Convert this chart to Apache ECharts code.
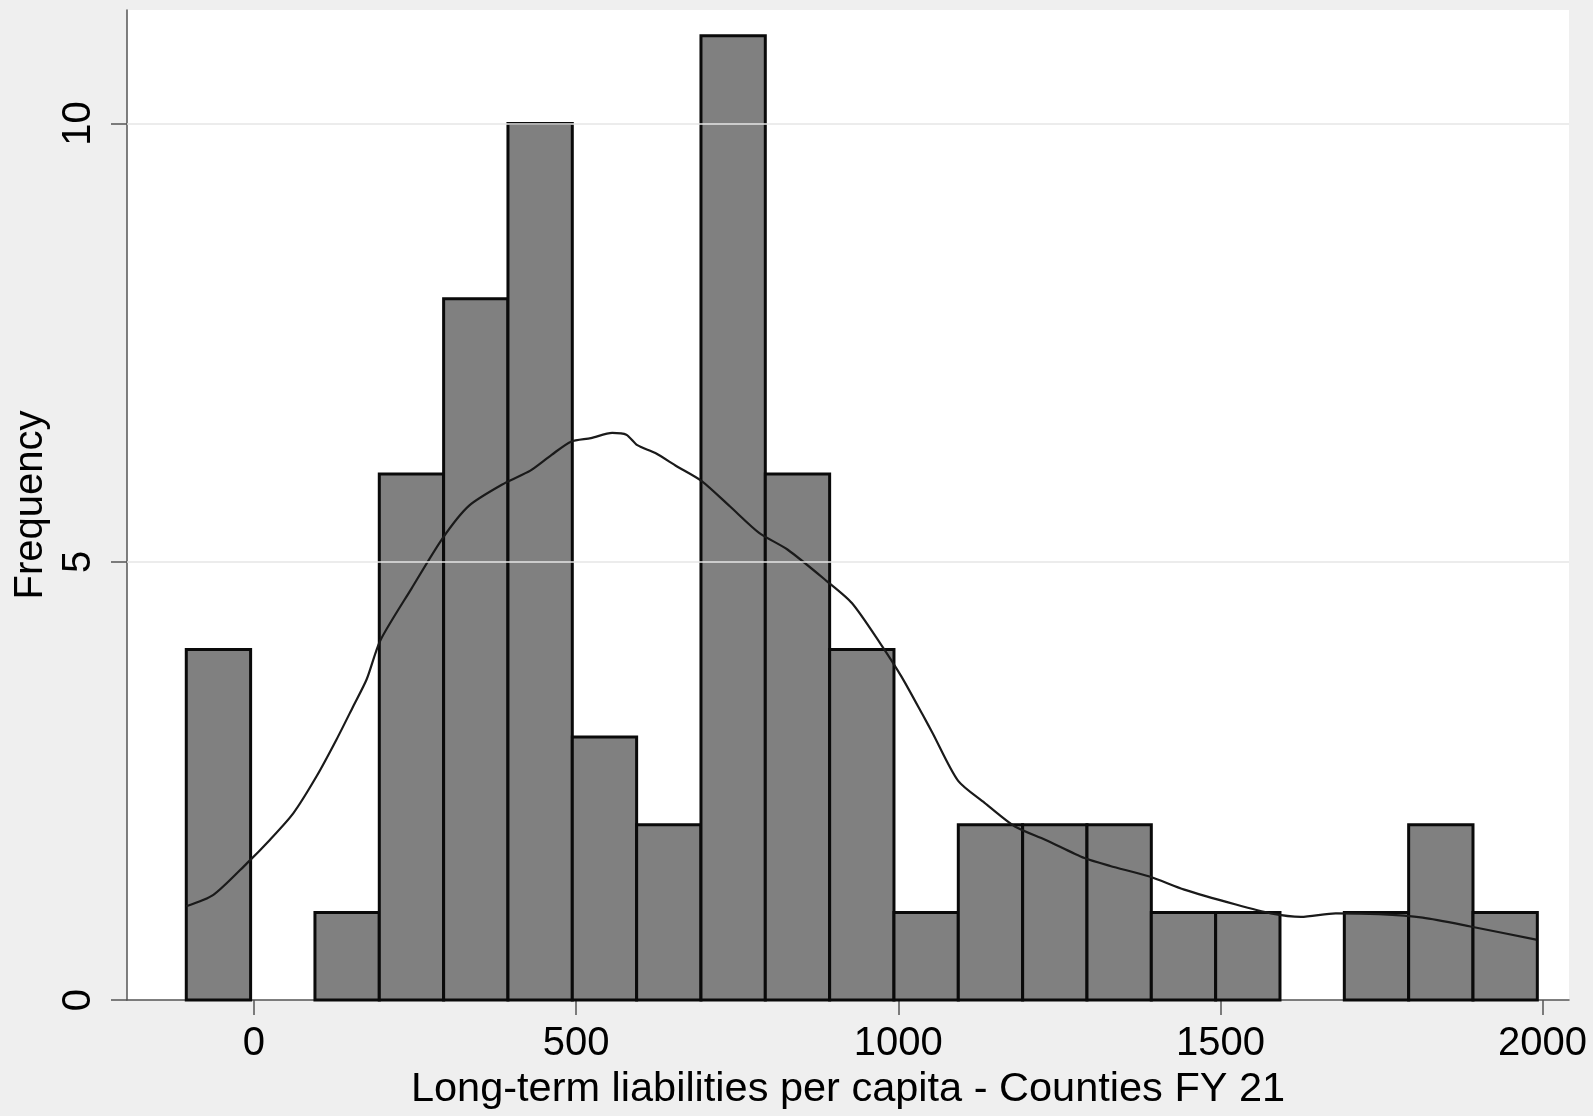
<!DOCTYPE html>
<html>
<head>
<meta charset="utf-8">
<title>Long-term liabilities per capita - Counties FY 21</title>
<script src="https://cdn.jsdelivr.net/npm/echarts@6/dist/echarts.min.js"></script>
<style>
  html, body { margin: 0; padding: 0; background: #efefef; }
  #chart { width: 1593px; height: 1116px; }
</style>
</head>
<body>
<div id="chart"></div>
<script>
// Histogram bins: lower edge of the first bin and the common bin width
const binStart = -105;
const binWidth = 99.85;
// Number of counties in each bin
const counts = [4, 0, 1, 6, 8, 10, 3, 2, 11, 6, 4, 1, 2, 2, 2, 1, 1, 0, 1, 2, 1];

// Kernel density estimate, scaled to frequency units
const densityX = [-105, -63, -11, 25, 61, 97, 128, 154, 175, 196, 245, 293, 334, 390, 429, 462, 492,
  523, 556, 578, 595, 623, 656, 695, 739, 784, 828, 889, 928, 972, 1005, 1039, 1053, 1093, 1134,
  1181, 1228, 1289, 1329, 1390, 1444, 1524, 1578, 1625, 1679, 1746, 1814, 1888, 1990];
const densityY = [1.07, 1.20, 1.56, 1.83, 2.13, 2.55, 2.97, 3.35, 3.66, 4.10, 4.70, 5.27, 5.64, 5.90,
  6.04, 6.22, 6.37, 6.41, 6.47, 6.45, 6.33, 6.24, 6.09, 5.92, 5.63, 5.33, 5.14, 4.78, 4.53, 4.07,
  3.69, 3.24, 3.05, 2.50, 2.25, 1.98, 1.83, 1.62, 1.53, 1.41, 1.26, 1.09, 0.99, 0.95, 0.99, 0.98,
  0.94, 0.84, 0.69];

// Axis ticks
const xTicks = [0, 500, 1000, 1500, 2000];
const yTicks = [0, 5, 10];
const xRange = [-197, 2041];
const yRange = [0, 11.294];

const FONT = '"Liberation Sans", Arial, Helvetica, sans-serif';

const binData = counts
  .map((c, i) => [binStart + i * binWidth, binStart + (i + 1) * binWidth, c])
  .filter(d => d[2] > 0);
const densityData = densityX.map((x, i) => [x, densityY[i]]);

const chart = echarts.init(document.getElementById('chart'), null, { renderer: 'canvas' });

chart.setOption({
  backgroundColor: '#efefef',
  animation: false,
  textStyle: { fontFamily: FONT, color: '#000' },
  grid: {
    left: 127, right: 24, top: 10, bottom: 115.5,
    show: true, backgroundColor: '#ffffff', borderWidth: 0
  },
  xAxis: {
    type: 'value',
    min: xRange[0], max: xRange[1],
    name: 'Long-term liabilities per capita - Counties FY 21',
    nameLocation: 'middle',
    nameGap: 67,
    nameTextStyle: { fontSize: 41.5, color: '#000', fontFamily: FONT },
    axisLine: { show: true, onZero: false, lineStyle: { color: '#555', width: 1.5 } },
    axisTick: { show: true, length: 15, lineStyle: { color: '#555', width: 1.5 }, customValues: xTicks },
    axisLabel: {
      fontSize: 40, margin: 24, color: '#000', fontFamily: FONT, customValues: xTicks,
      formatter: v => String(v)
    },
    splitLine: { show: false }
  },
  yAxis: {
    type: 'value',
    min: yRange[0], max: yRange[1],
    name: 'Frequency',
    nameLocation: 'middle',
    nameGap: 72,
    nameTextStyle: { fontSize: 40, color: '#000', fontFamily: FONT },
    axisLine: { show: true, onZero: false, lineStyle: { color: '#555', width: 1.5 } },
    axisTick: { show: true, length: 16, lineStyle: { color: '#555', width: 1.5 }, customValues: yTicks },
    axisLabel: {
      fontSize: 40, margin: 28, rotate: 90, color: '#000', fontFamily: FONT, customValues: yTicks,
      formatter: v => String(v)
    },
    splitLine: { show: false }
  },
  series: [
    {
      // horizontal grid lines behind the bars
      type: 'line',
      data: [],
      z: 1,
      silent: true,
      markLine: {
        silent: true,
        symbol: 'none',
        label: { show: false },
        lineStyle: { color: '#e6e6e6', width: 1.5, type: 'solid' },
        data: yTicks.filter(v => v > 0).map(v => ({ yAxis: v }))
      }
    },
    {
      type: 'custom',
      z: 2,
      data: binData,
      encode: { x: [0, 1], y: 2 },
      renderItem: function (params, api) {
        const topLeft = api.coord([api.value(0), api.value(2)]);
        const bottomRight = api.coord([api.value(1), 0]);
        return {
          type: 'rect',
          shape: {
            x: topLeft[0],
            y: topLeft[1],
            width: bottomRight[0] - topLeft[0],
            height: bottomRight[1] - topLeft[1]
          },
          style: { fill: '#808080', stroke: '#0a0a0a', lineWidth: 3 }
        };
      }
    },
    {
      type: 'line',
      z: 3,
      data: densityData,
      showSymbol: false,
      smooth: 0.25,
      lineStyle: { color: '#1a1a1a', width: 2.2 }
    }
  ]
});
</script>
</body>
</html>
